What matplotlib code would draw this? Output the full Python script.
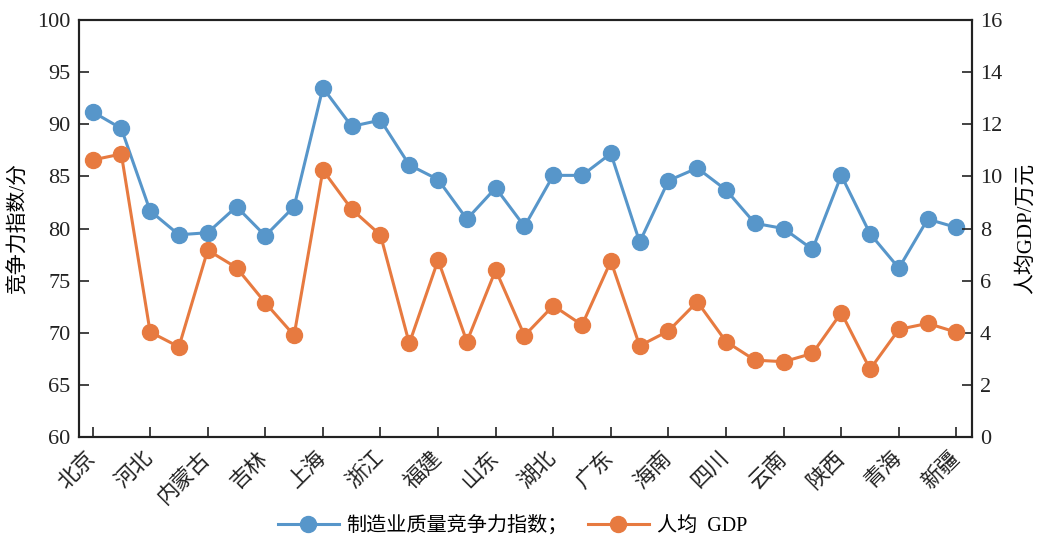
import matplotlib
matplotlib.use("Agg")
import matplotlib.pyplot as plt

plt.rcParams['font.family'] = ['Liberation Serif', 'Noto Sans CJK SC']

# provinces (31), only every second one gets a label
provinces = ["北京", "天津", "河北", "山西", "内蒙古", "辽宁", "吉林", "黑龙江",
             "上海", "江苏", "浙江", "安徽", "福建", "江西", "山东", "河南",
             "湖北", "湖南", "广东", "广西", "海南", "重庆", "四川", "贵州",
             "云南", "西藏", "陕西", "甘肃", "青海", "宁夏", "新疆"]

# manufacturing quality competitiveness index (left axis)
quality_index = [91.2, 89.6, 81.7, 79.4, 79.6, 82.1, 79.3, 82.1,
                 93.5, 89.8, 90.4, 86.1, 84.7, 80.9, 83.9, 80.2,
                 85.1, 85.1, 87.2, 78.7, 84.6, 85.8, 83.7, 80.5,
                 80.0, 78.0, 85.1, 79.5, 76.2, 80.9, 80.1]

# GDP per capita, 10k yuan (right axis)
gdp_per_capita = [10.63, 10.86, 4.03, 3.46, 7.17, 6.50, 5.15, 3.90,
                  10.24, 8.74, 7.75, 3.59, 6.79, 3.66, 6.41, 3.89,
                  5.04, 4.30, 6.75, 3.50, 4.07, 5.19, 3.66, 2.95,
                  2.89, 3.21, 4.77, 2.60, 4.13, 4.36, 4.02]

blue = "#5796CA"
orange = "#E77A40"

fig = plt.figure(figsize=(10.46, 5.42), dpi=100)
ax1 = fig.add_axes([0.0755, 0.1937, 0.8535, 0.7693])
ax2 = ax1.twinx()

x = list(range(len(provinces)))
l1, = ax1.plot(x, quality_index, color=blue, lw=2.2, marker="o", ms=11.5,
               label="制造业质量竞争力指数；")
l2, = ax2.plot(x, gdp_per_capita, color=orange, lw=2.2, marker="o", ms=11.5,
               label="人均  GDP")

ax1.set_xlim(-0.47, 30.53)
ax1.set_ylim(60, 100)
ax2.set_ylim(0, 16)
ax1.set_yticks(range(60, 101, 5))
ax2.set_yticks(range(0, 17, 2))

ax1.set_xticks(x[::2])
ax1.set_xticklabels(provinces[::2], rotation=45, ha="right", va="center",
                    rotation_mode="anchor", fontsize=15.5)

for a in (ax1, ax2):
    a.tick_params(direction="in", length=7, width=1.2, labelsize=16, colors="#222222")
    for s in a.spines.values():
        s.set_linewidth(1.5)
        s.set_color("#222222")
ax1.tick_params(axis="x", pad=13, labelsize=15.5)
ax1.tick_params(axis="y", pad=6)
ax2.tick_params(axis="y", pad=6)

ax1.set_ylabel("竞争力指数/分", fontsize=15, labelpad=6)
ax2.set_ylabel("人均GDP/万元", fontsize=15, labelpad=10)

fig.legend(handles=[l1, l2], loc="lower center", bbox_to_anchor=(0.49, -0.022),
           ncol=2, frameon=False, fontsize=14.5, handlelength=3.0,
           columnspacing=1.0, handletextpad=0.4)

fig.savefig("out.png", dpi=100)
